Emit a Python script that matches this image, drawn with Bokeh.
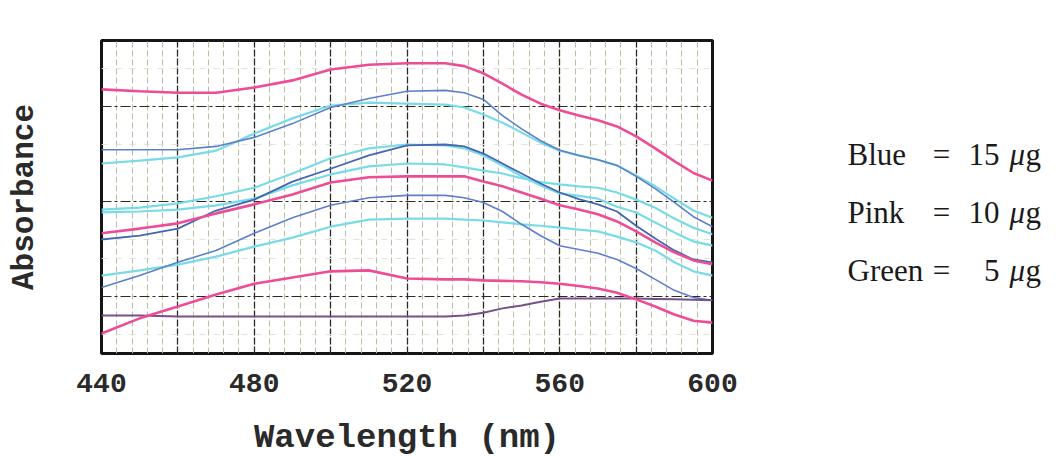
from bokeh.plotting import figure
from bokeh.layouts import row
from bokeh.models import FixedTicker, Range1d
from bokeh.core.properties import value
from bokeh.embed import file_html
from bokeh.resources import INLINE

# ---------------- data ----------------
wavelength = [440, 450, 460, 470, 480, 490, 500, 510, 520, 530, 535, 540,
              545, 550, 555, 560, 565, 570, 575, 580, 585, 590, 595, 600]

# Pink = 10 ug
pink_1 = [.636, .632, .629, .629, .640, .655, .678, .688, .691, .691, .685, .670,
          .648, .625, .606, .592, .581, .571, .558, .537, .512, .485, .460, .444]
pink_2 = [.333, .343, .354, .375, .394, .415, .440, .451, .453, .453, .453, .442,
          .432, .419, .406, .392, .383, .373, .358, .337, .314, .293, .276, .268]
pink_3 = [.122, .154, .179, .204, .227, .240, .253, .255, .238, .236, .236, .234,
          .233, .232, .230, .227, .222, .217, .208, .194, .179, .162, .149, .145]

# Blue = 15 ug
blue_1 = [.509, .509, .509, .516, .535, .564, .598, .617, .632, .634, .629, .615,
          .581, .553, .528, .508, .497, .488, .476, .453, .427, .398, .368, .347]
blue_2 = [.320, .328, .343, .381, .404, .442, .469, .497, .518, .520, .516, .501,
          .480, .459, .438, .419, .405, .394, .379, .349, .322, .297, .278, .272]
blue_3 = [.219, .244, .272, .297, .333, .366, .392, .408, .413, .413, .408, .398,
          .379, .352, .328, .307, .299, .291, .278, .259, .236, .213, .198, .192]

# Green = 5 ug
green_1 = [.480, .486, .493, .507, .543, .575, .602, .608, .606, .604, .598, .583,
           .566, .545, .524, .507, .497, .488, .476, .455, .432, .406, .381, .366]
green_2 = [.383, .387, .396, .411, .429, .459, .491, .512, .520, .518, .512, .497,
           .476, .453, .434, .417, .412, .406, .389, .377, .356, .335, .316, .307]
green_3 = [.377, .379, .383, .392, .406, .434, .457, .474, .480, .478, .472, .465,
           .459, .449, .441, .436, .432, .429, .419, .404, .387, .364, .345, .331]
green_4 = [.244, .255, .267, .284, .305, .324, .347, .362, .364, .364, .362, .360,
           .356, .352, .349, .345, .341, .337, .326, .314, .297, .272, .253, .244]

# baseline trace
baseline = [.160, .160, .158, .158, .158, .158, .158, .158, .158, .158, .160, .166,
            .175, .181, .189, .196, .196, .196, .196, .196, .195, .194, .193, .192]

x_ticks = [440, 480, 520, 560, 600]
legend_names = ["Blue", "Pink", "Green"]
legend_amounts = ["15", "10", "5"]

# ---------------- styles ----------------
PINK = "#ee4d95"
BLUE = "#5b80cc"
BLUE_DARK = "#4466b3"
CYAN = "#78dbe6"
PURPLE = "#76508a"
MONO = "Liberation Mono"
SERIF = "Liberation Serif"

H = 453
BORDERS = dict(min_border_top=40, min_border_bottom=100)
p = figure(width=744, height=H, frame_width=611, frame_height=313,
           min_border_left=101, min_border_right=32, **BORDERS,
           x_range=Range1d(440, 600), y_range=Range1d(0.08, 0.739),
           output_backend="svg", toolbar_location=None)
p.background_fill_color = "white"
p.border_fill_color = "white"
p.outline_line_color = "#151515"
p.outline_line_width = 3

# grids
p.xgrid.ticker = FixedTicker(ticks=list(range(460, 600, 20)),
                             minor_ticks=list(range(444, 600, 4)))
p.xgrid.grid_line_color = "#2a2a22"
p.xgrid.grid_line_width = 1.3
p.xgrid.grid_line_dash = "7 2"
p.xgrid.minor_grid_line_color = "#bdbda4"
p.xgrid.minor_grid_line_width = 1
p.xgrid.minor_grid_line_dash = "6 3"

p.ygrid.ticker = FixedTicker(ticks=[0.2, 0.4, 0.6],
                             minor_ticks=[0.12, 0.28, 0.32, 0.52, 0.68])
p.ygrid.grid_line_color = "#2a2a22"
p.ygrid.grid_line_width = 1.2
p.ygrid.grid_line_dash = "10 3 3 3"
p.ygrid.minor_grid_line_color = "#e2e2d6"
p.ygrid.minor_grid_line_width = 1
p.ygrid.minor_grid_line_dash = "6 8"

# curves
for ys in (green_4, green_3, green_2, green_1):
    p.line(wavelength, ys, line_color=CYAN, line_width=2.2)
p.line(wavelength, blue_3, line_color=BLUE, line_width=1.6)
p.line(wavelength, blue_2, line_color=BLUE_DARK, line_width=1.8)
p.line(wavelength, blue_1, line_color=BLUE, line_width=1.6)
p.line(wavelength, baseline, line_color=PURPLE, line_width=2)
for ys in (pink_3, pink_2, pink_1):
    p.line(wavelength, ys, line_color=PINK, line_width=2.6)

# axes
p.xaxis.ticker = FixedTicker(ticks=x_ticks)
p.xaxis.axis_line_color = None
p.xaxis.major_tick_line_color = None
p.xaxis.minor_tick_line_color = None
p.xaxis.major_label_text_font = MONO
p.xaxis.major_label_text_font_style = "bold"
p.xaxis.major_label_text_font_size = "28px"
p.xaxis.major_label_text_color = "#2a2a2a"
p.xaxis.major_label_standoff = 14
p.xaxis.axis_label = "Wavelength (nm)"
p.xaxis.axis_label_text_font = MONO
p.xaxis.axis_label_text_font_style = "bold"
p.xaxis.axis_label_text_font_size = "34px"
p.xaxis.axis_label_text_color = "#2a2a2a"
p.xaxis.axis_label_standoff = 24

p.yaxis.ticker = FixedTicker(ticks=[])
p.yaxis.axis_line_color = None
p.yaxis.major_tick_line_color = None
p.yaxis.minor_tick_line_color = None
p.yaxis.major_label_text_color = None
p.yaxis.axis_label = "Absorbance"
p.yaxis.axis_label_text_font = MONO
p.yaxis.axis_label_text_font_style = "bold"
p.yaxis.axis_label_text_font_size = "31px"
p.yaxis.axis_label_text_color = "#2a2a2a"
p.yaxis.axis_label_standoff = 60

# legend panel (text key); frame aligned with the main plot's frame
W2 = 301
q = figure(width=W2, height=H, frame_width=W2, frame_height=313,
           x_range=Range1d(0, W2), y_range=Range1d(353, 40),
           min_border_left=0, min_border_right=0, **BORDERS,
           x_axis_location=None, y_axis_location=None,
           output_backend="svg", toolbar_location=None)
q.grid.visible = False
q.outline_line_color = None
q.background_fill_color = "white"
q.border_fill_color = "white"

rows_y = [154, 212, 270]
common = dict(text_font=value(SERIF), text_font_size="31px",
              text_color="#1a1a1a", text_baseline="alphabetic")
q.text(x=[103] * 3, y=rows_y, text=legend_names, text_align="left", **common)
q.text(x=[197] * 3, y=rows_y, text=["="] * 3, text_align="center", **common)
q.text(x=[255] * 3, y=rows_y, text=legend_amounts, text_align="right", **common)
q.text(x=[265] * 3, y=rows_y, text=["\u03bc"] * 3, text_align="left",
       text_font_style="italic", **common)
q.text(x=[281] * 3, y=rows_y, text=["g"] * 3, text_align="left", **common)

layout = row(p, q)
open("out.html", "w").write(file_html(layout, INLINE))
